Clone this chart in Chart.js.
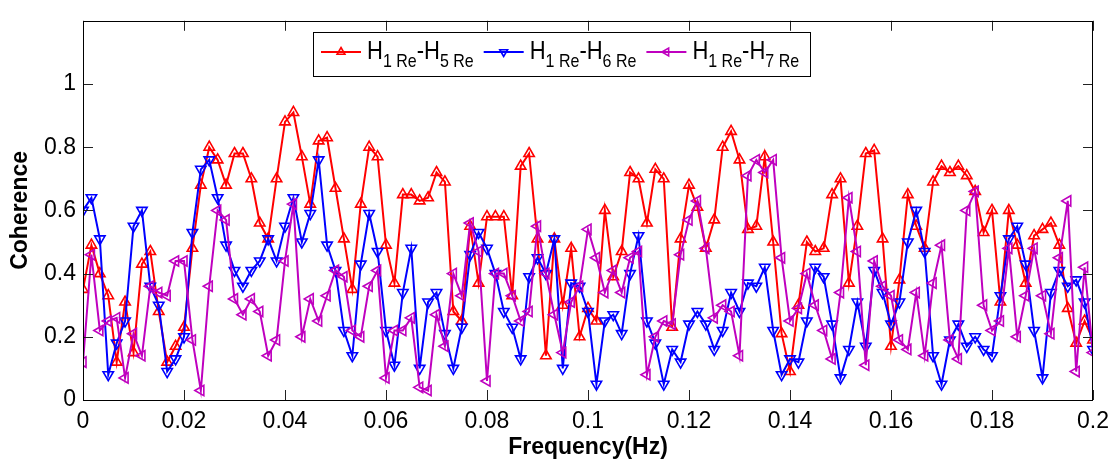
<!DOCTYPE html>
<html>
<head>
<meta charset="utf-8">
<title>Coherence</title>
<script src="https://cdn.jsdelivr.net/npm/chart.js@4.4.0/dist/chart.umd.min.js"></script>
<style>
  body { margin: 0; background: #fff; }
  #wrap { width: 1117px; height: 461px; }
</style>
</head>
<body>
<div id="wrap"><canvas id="coh" width="1117" height="461"></canvas></div>
<script>
"use strict";

// Frequency resolution of the spectra (bins 0 .. 0.2 Hz)
var df = 0.2 / 120;

// Coherence H1 Re - H5 Re
var coh15 = [0.35, 0.49, 0.40, 0.33, 0.12, 0.31, 0.15, 0.43, 0.47, 0.28,
    0.12, 0.17, 0.23, 0.48, 0.68, 0.80, 0.76, 0.68, 0.78, 0.78,
    0.70, 0.56, 0.51, 0.70, 0.88, 0.91, 0.77, 0.62, 0.82, 0.83,
    0.67, 0.51, 0.35, 0.62, 0.80, 0.77, 0.49, 0.37, 0.65, 0.65,
    0.63, 0.64, 0.72, 0.69, 0.28, 0.25, 0.55, 0.37, 0.58, 0.58,
    0.58, 0.33, 0.74, 0.78, 0.51, 0.14, 0.51, 0.30, 0.48, 0.20,
    0.29, 0.25, 0.60, 0.39, 0.47, 0.72, 0.70, 0.56, 0.73, 0.70,
    0.23, 0.51, 0.68, 0.61, 0.48, 0.57, 0.80, 0.85, 0.76, 0.54,
    0.55, 0.77, 0.50, 0.21, 0.09, 0.30, 0.50, 0.47, 0.48, 0.65,
    0.70, 0.37, 0.55, 0.78, 0.79, 0.51, 0.17, 0.38, 0.65, 0.55,
    0.48, 0.69, 0.74, 0.72, 0.74, 0.71, 0.66, 0.53, 0.60, 0.31,
    0.60, 0.49, 0.37, 0.52, 0.54, 0.56, 0.49, 0.29, 0.18, 0.25,
    0.19];

// Coherence H1 Re - H6 Re
var coh16 = [0.60, 0.64, 0.51, 0.08, 0.18, 0.25, 0.55, 0.60, 0.36, 0.30,
    0.09, 0.13, 0.20, 0.53, 0.73, 0.76, 0.64, 0.49, 0.41, 0.36,
    0.41, 0.44, 0.51, 0.44, 0.55, 0.64, 0.50, 0.59, 0.76, 0.49,
    0.41, 0.22, 0.14, 0.43, 0.59, 0.47, 0.22, 0.11, 0.34, 0.48,
    0.10, 0.31, 0.34, 0.21, 0.10, 0.23, 0.46, 0.53, 0.48, 0.40,
    0.28, 0.23, 0.13, 0.39, 0.45, 0.40, 0.51, 0.10, 0.37, 0.36,
    0.28, 0.05, 0.25, 0.27, 0.21, 0.40, 0.52, 0.25, 0.18, 0.05,
    0.16, 0.12, 0.24, 0.28, 0.24, 0.16, 0.22, 0.34, 0.28, 0.37,
    0.36, 0.42, 0.22, 0.08, 0.13, 0.12, 0.25, 0.42, 0.39, 0.24,
    0.07, 0.16, 0.31, 0.17, 0.41, 0.34, 0.24, 0.31, 0.50, 0.60,
    0.47, 0.14, 0.05, 0.19, 0.24, 0.17, 0.20, 0.16, 0.14, 0.33,
    0.51, 0.55, 0.43, 0.22, 0.07, 0.34, 0.41, 0.36, 0.38, 0.31,
    0.16];

// Coherence H1 Re - H7 Re
var coh17 = [0.12, 0.46, 0.22, 0.25, 0.26, 0.07, 0.21, 0.14, 0.36, 0.34,
    0.33, 0.44, 0.44, 0.19, 0.03, 0.36, 0.60, 0.57, 0.32, 0.27,
    0.32, 0.28, 0.14, 0.19, 0.44, 0.62, 0.20, 0.32, 0.25, 0.33,
    0.41, 0.39, 0.22, 0.20, 0.36, 0.41, 0.07, 0.22, 0.22, 0.26,
    0.04, 0.03, 0.27, 0.17, 0.40, 0.33, 0.56, 0.47, 0.06, 0.40,
    0.40, 0.33, 0.25, 0.28, 0.55, 0.40, 0.27, 0.15, 0.31, 0.36,
    0.54, 0.45, 0.34, 0.41, 0.34, 0.45, 0.47, 0.08, 0.20, 0.25,
    0.24, 0.46, 0.57, 0.63, 0.48, 0.26, 0.30, 0.28, 0.14, 0.71,
    0.76, 0.72, 0.76, 0.45, 0.25, 0.29, 0.40, 0.30, 0.22, 0.13,
    0.34, 0.64, 0.47, 0.11, 0.44, 0.36, 0.33, 0.19, 0.16, 0.34,
    0.14, 0.37, 0.49, 0.19, 0.13, 0.60, 0.66, 0.30, 0.22, 0.25,
    0.48, 0.20, 0.33, 0.48, 0.33, 0.21, 0.45, 0.63, 0.09, 0.42,
    0.15];

var xTicks = [0, 0.02, 0.04, 0.06, 0.08, 0.1, 0.12, 0.14, 0.16, 0.18, 0.2];
var yTicks = [0, 0.2, 0.4, 0.6, 0.8, 1];

// legend text: even parts normal, odd parts subscript
var legendParts = [
    ['H', '1 Re', '-H', '5 Re'],
    ['H', '1 Re', '-H', '6 Re'],
    ['H', '1 Re', '-H', '7 Re']
];

var FONT = '"Liberation Sans", Arial, Helvetica, sans-serif';

function toPoints(vals) {
    return vals.map(function (v, i) { return {x: i * df, y: v}; });
}

function series(label, vals, color, rot, order) {
    return {
        label: label,
        data: toPoints(vals),
        borderColor: color,
        borderWidth: 2,
        pointStyle: 'triangle',
        rotation: rot,
        radius: 6,
        pointBorderWidth: 1.6,
        pointBorderColor: color,
        pointBackgroundColor: 'rgba(0,0,0,0)',
        tension: 0,
        order: order
    };
}

// box round the axes with inward ticks on all four sides
var framePlugin = {
    id: 'frame',
    afterDraw: function (chart) {
        var ctx = chart.ctx, a = chart.chartArea;
        var x = chart.scales.x, y = chart.scales.y;
        var len = 10;
        ctx.save();
        ctx.strokeStyle = '#222';
        ctx.lineWidth = 1;
        ctx.beginPath();
        xTicks.forEach(function (t) {
            var px = Math.round(x.getPixelForValue(t)) + 0.5;
            ctx.moveTo(px, a.bottom); ctx.lineTo(px, a.bottom - len);
            ctx.moveTo(px, a.top); ctx.lineTo(px, a.top + len);
        });
        yTicks.forEach(function (t) {
            var py = Math.round(y.getPixelForValue(t)) + 0.5;
            ctx.moveTo(a.left, py); ctx.lineTo(a.left + len, py);
            ctx.moveTo(a.right, py); ctx.lineTo(a.right - len, py);
        });
        ctx.stroke();
        ctx.strokeStyle = '#000';
        ctx.strokeRect(Math.round(a.left) + 0.5, Math.round(a.top) + 0.5,
            Math.round(a.width) - 1, Math.round(a.height));
        ctx.restore();
    }
};

// legend with subscripts
var legendPlugin = {
    id: 'subLegend',
    afterDraw: function (chart) {
        var ctx = chart.ctx;
        var boxL = 313, boxT = 32, boxR = 810, boxB = 76;
        var lineY = 52, baseY = 59, subY = 67;
        ctx.save();
        ctx.fillStyle = '#fff';
        ctx.fillRect(boxL, boxT, boxR - boxL, boxB - boxT);
        ctx.strokeStyle = '#000';
        ctx.lineWidth = 1;
        ctx.strokeRect(boxL + 0.5, boxT + 0.5, boxR - boxL, boxB - boxT);

        var cx = 321;
        chart.data.datasets.forEach(function (ds, i) {
            ctx.strokeStyle = ds.borderColor;
            ctx.lineWidth = 2;
            ctx.beginPath();
            ctx.moveTo(cx, lineY);
            ctx.lineTo(cx + 40, lineY);
            ctx.stroke();
            ctx.lineWidth = 1.6;
            ctx.fillStyle = 'rgba(0,0,0,0)';
            Chart.helpers.drawPoint(ctx, {
                pointStyle: 'triangle', rotation: ds.rotation, radius: 4.5, borderWidth: 1.6
            }, cx + 20, lineY);
            cx += 46;
            ctx.fillStyle = '#000';
            ctx.textBaseline = 'alphabetic';
            legendParts[i].forEach(function (p, j) {
                ctx.font = (j % 2 ? '16px ' : '22px ') + FONT;
                var w = ctx.measureText(p).width;
                ctx.save();
                ctx.translate(cx, j % 2 ? subY : baseY);
                ctx.scale(1, 1.2);
                ctx.fillText(p, 0, 0);
                ctx.restore();
                cx += w;
            });
            cx += 10;
        });
        ctx.restore();
    }
};

var ctx1 = document.getElementById('coh').getContext('2d');
var myChart = new Chart(ctx1, {
    type: 'line',
    data: {
        datasets: [
            series('H1 Re-H5 Re', coh15, '#ff0000', 0, 3),
            series('H1 Re-H6 Re', coh16, '#0000ff', 180, 2),
            series('H1 Re-H7 Re', coh17, '#bf00bf', -90, 1)
        ]
    },
    options: {
        responsive: false,
        animation: false,
        layout: {padding: {left: 0, top: 9, right: 21, bottom: 0}},
        plugins: {
            legend: {display: false},
            tooltip: {enabled: false}
        },
        scales: {
            x: {
                type: 'linear',
                min: 0,
                max: 0.2,
                afterFit: function (s) { s.height = 61; },
                afterBuildTicks: function (s) {
                    s.ticks = xTicks.map(function (v) { return {value: v}; });
                },
                grid: {display: false, drawTicks: false},
                border: {display: false},
                ticks: {
                    color: '#000',
                    padding: 8,
                    maxRotation: 0,
                    font: {family: FONT, size: 23},
                    callback: function (v) { return String(Number(v.toFixed(2))); }
                },
                title: {
                    display: true,
                    text: 'Frequency(Hz)',
                    color: '#000',
                    padding: {top: 0, bottom: 0},
                    font: {family: FONT, size: 23, weight: 'bold'}
                }
            },
            y: {
                min: 0,
                max: 1.2,
                afterFit: function (s) { s.width = 83; },
                afterBuildTicks: function (s) {
                    s.ticks = yTicks.map(function (v) { return {value: v}; });
                },
                grid: {display: false, drawTicks: false},
                border: {display: false},
                ticks: {
                    color: '#000',
                    padding: 7,
                    font: {family: FONT, size: 23},
                    callback: function (v) { return String(Number(v.toFixed(1))); }
                },
                title: {
                    display: true,
                    text: 'Coherence',
                    color: '#000',
                    padding: {top: 7, bottom: 0},
                    font: {family: FONT, size: 23, weight: 'bold'}
                }
            }
        }
    },
    plugins: [framePlugin, legendPlugin]
});
</script>
</body>
</html>
